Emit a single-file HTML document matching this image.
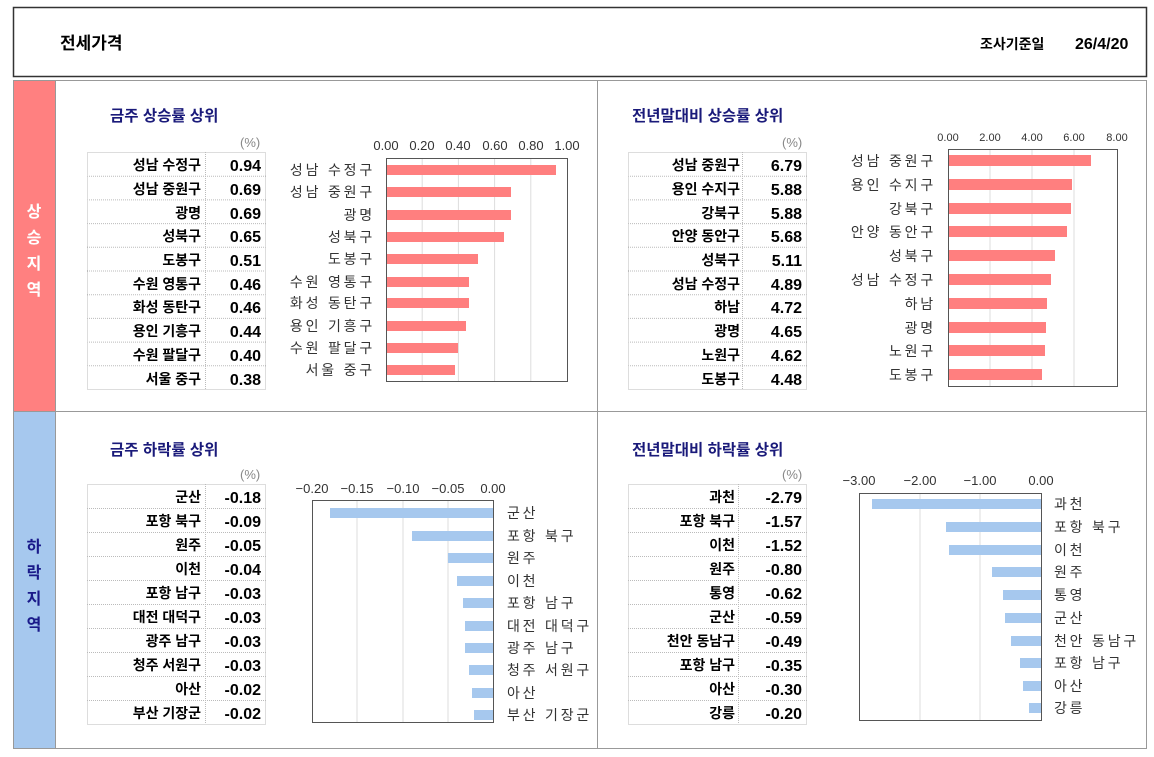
<!DOCTYPE html>
<html><head><meta charset="utf-8"><style>
html,body{margin:0;padding:0;background:#fff}
svg{display:block}
text{font-family:"Liberation Sans","Noto Sans CJK KR",sans-serif}
.t{font-size:14px;font-weight:bold;fill:#000}
.v{font-size:16px;font-weight:bold;fill:#000}
.ti{font-size:15.5px;font-weight:bold;fill:#1a1a7a}
.lb{font-size:14px;fill:#333;letter-spacing:2.8px}
.tk{font-size:13px;fill:#333}
.pc{font-size:13px;fill:#888}
.side{font-size:16px;font-weight:bold}
</style></head><body>
<svg width="1154" height="757" xmlns="http://www.w3.org/2000/svg">
<rect x="13.5" y="7.5" width="1133" height="69" fill="#fff" stroke="#333" stroke-width="1.5"/>
<text x="60" y="49" style="font-size:17px;font-weight:bold">전세가격</text>
<text x="980" y="49" style="font-size:14px;font-weight:bold">조사기준일</text>
<text x="1075" y="49" style="font-size:16px;font-weight:bold">26/4/20</text>
<rect x="13.5" y="80.5" width="1133" height="668" fill="#fff" stroke="#999"/>
<rect x="14" y="81" width="41" height="330" fill="#FF8080"/>
<rect x="14" y="411" width="41" height="337" fill="#A6C8EE"/>
<line x1="55.5" y1="81" x2="55.5" y2="748" stroke="#999"/>
<line x1="597.5" y1="81" x2="597.5" y2="748" stroke="#999"/>
<line x1="14" y1="411.5" x2="1146" y2="411.5" stroke="#999"/>
<g class="side" fill="#fff" text-anchor="middle"><text x="34" y="217">상</text><text x="34" y="243">승</text><text x="34" y="269">지</text><text x="34" y="295">역</text></g>
<g class="side" fill="#1a1a8a" text-anchor="middle"><text x="34" y="552">하</text><text x="34" y="578">락</text><text x="34" y="604">지</text><text x="34" y="630">역</text></g>

<!-- Panel 1 -->
<text class="ti" x="110" y="121">금주 상승률 상위</text>
<text class="pc" x="240" y="147">(%)</text>
<g stroke="#bbb" stroke-dasharray="1,1" fill="none">
<rect x="87.5" y="152.5" width="178" height="237"/>
<line x1="205.5" y1="152" x2="205.5" y2="389"/>
<line x1="87" y1="176.2" x2="266" y2="176.2"/><line x1="87" y1="199.9" x2="266" y2="199.9"/><line x1="87" y1="223.6" x2="266" y2="223.6"/><line x1="87" y1="247.3" x2="266" y2="247.3"/><line x1="87" y1="271" x2="266" y2="271"/><line x1="87" y1="294.7" x2="266" y2="294.7"/><line x1="87" y1="318.4" x2="266" y2="318.4"/><line x1="87" y1="342.1" x2="266" y2="342.1"/><line x1="87" y1="365.8" x2="266" y2="365.8"/>
</g>
<g class="t" text-anchor="end">
<text x="201" y="170">성남 수정구</text><text x="201" y="194">성남 중원구</text><text x="201" y="218">광명</text><text x="201" y="241">성북구</text><text x="201" y="265">도봉구</text><text x="201" y="289">수원 영통구</text><text x="201" y="312">화성 동탄구</text><text x="201" y="336">용인 기흥구</text><text x="201" y="360">수원 팔달구</text><text x="201" y="384">서울 중구</text>
</g>
<g class="v" text-anchor="end">
<text x="261" y="171">0.94</text><text x="261" y="195">0.69</text><text x="261" y="219">0.69</text><text x="261" y="242">0.65</text><text x="261" y="266">0.51</text><text x="261" y="290">0.46</text><text x="261" y="313">0.46</text><text x="261" y="337">0.44</text><text x="261" y="361">0.40</text><text x="261" y="385">0.38</text>
</g>
<g stroke="#ddd"><line x1="422.2" y1="158" x2="422.2" y2="381"/><line x1="458.4" y1="158" x2="458.4" y2="381"/><line x1="494.6" y1="158" x2="494.6" y2="381"/><line x1="530.8" y1="158" x2="530.8" y2="381"/></g>
<g fill="#FF7F7F">
<rect x="386" y="165" width="170" height="10"/><rect x="386" y="187" width="125" height="10"/><rect x="386" y="210" width="125" height="10"/><rect x="386" y="232" width="118" height="10"/><rect x="386" y="254" width="92" height="10"/><rect x="386" y="277" width="83" height="10"/><rect x="386" y="298" width="83" height="10"/><rect x="386" y="321" width="80" height="10"/><rect x="386" y="343" width="72" height="10"/><rect x="386" y="365" width="69" height="10"/>
</g>
<rect x="386.5" y="158.5" width="181" height="223" fill="none" stroke="#555"/>
<g class="tk" text-anchor="middle"><text x="386" y="150">0.00</text><text x="422" y="150">0.20</text><text x="458" y="150">0.40</text><text x="495" y="150">0.60</text><text x="531" y="150">0.80</text><text x="567" y="150">1.00</text></g>
<g class="lb" text-anchor="end">
<text x="375" y="175">성남 수정구</text><text x="375" y="197">성남 중원구</text><text x="375" y="220">광명</text><text x="375" y="242">성북구</text><text x="375" y="264">도봉구</text><text x="375" y="287">수원 영통구</text><text x="375" y="308">화성 동탄구</text><text x="375" y="331">용인 기흥구</text><text x="375" y="353">수원 팔달구</text><text x="375" y="375">서울 중구</text>
</g>

<!-- Panel 2 -->
<text class="ti" x="632" y="121">전년말대비 상승률 상위</text>
<text class="pc" x="782" y="147">(%)</text>
<g stroke="#bbb" stroke-dasharray="1,1" fill="none">
<rect x="628.5" y="152.5" width="178" height="237"/>
<line x1="742.5" y1="152" x2="742.5" y2="389"/>
<line x1="628" y1="176.2" x2="807" y2="176.2"/><line x1="628" y1="199.9" x2="807" y2="199.9"/><line x1="628" y1="223.6" x2="807" y2="223.6"/><line x1="628" y1="247.3" x2="807" y2="247.3"/><line x1="628" y1="271" x2="807" y2="271"/><line x1="628" y1="294.7" x2="807" y2="294.7"/><line x1="628" y1="318.4" x2="807" y2="318.4"/><line x1="628" y1="342.1" x2="807" y2="342.1"/><line x1="628" y1="365.8" x2="807" y2="365.8"/>
</g>
<g class="t" text-anchor="end">
<text x="740" y="170">성남 중원구</text><text x="740" y="194">용인 수지구</text><text x="740" y="218">강북구</text><text x="740" y="241">안양 동안구</text><text x="740" y="265">성북구</text><text x="740" y="289">성남 수정구</text><text x="740" y="312">하남</text><text x="740" y="336">광명</text><text x="740" y="360">노원구</text><text x="740" y="384">도봉구</text>
</g>
<g class="v" text-anchor="end">
<text x="802" y="171">6.79</text><text x="802" y="195">5.88</text><text x="802" y="219">5.88</text><text x="802" y="242">5.68</text><text x="802" y="266">5.11</text><text x="802" y="290">4.89</text><text x="802" y="313">4.72</text><text x="802" y="337">4.65</text><text x="802" y="361">4.62</text><text x="802" y="385">4.48</text>
</g>
<g stroke="#ddd"><line x1="990" y1="149" x2="990" y2="387"/><line x1="1032" y1="149" x2="1032" y2="387"/><line x1="1074" y1="149" x2="1074" y2="387"/></g>
<g fill="#FF7F7F">
<rect x="948" y="155" width="143" height="11"/><rect x="948" y="179" width="124" height="11"/><rect x="948" y="203" width="123" height="11"/><rect x="948" y="226" width="119" height="11"/><rect x="948" y="250" width="107" height="11"/><rect x="948" y="274" width="103" height="11"/><rect x="948" y="298" width="99" height="11"/><rect x="948" y="322" width="98" height="11"/><rect x="948" y="345" width="97" height="11"/><rect x="948" y="369" width="94" height="11"/>
</g>
<rect x="948.5" y="149.5" width="169" height="237" fill="none" stroke="#555"/>
<g class="tk" text-anchor="middle" style="font-family:'Liberation Mono',monospace;font-size:11px"><text x="948" y="141">0.00</text><text x="990" y="141">2.00</text><text x="1032" y="141">4.00</text><text x="1074" y="141">6.00</text><text x="1117" y="141">8.00</text></g>
<g class="lb" text-anchor="end">
<text x="936" y="166">성남 중원구</text><text x="936" y="190">용인 수지구</text><text x="936" y="214">강북구</text><text x="936" y="237">안양 동안구</text><text x="936" y="261">성북구</text><text x="936" y="285">성남 수정구</text><text x="936" y="309">하남</text><text x="936" y="333">광명</text><text x="936" y="356">노원구</text><text x="936" y="380">도봉구</text>
</g>

<!-- Panel 3 -->
<text class="ti" x="110" y="455">금주 하락률 상위</text>
<text class="pc" x="240" y="479">(%)</text>
<g stroke="#bbb" stroke-dasharray="1,1" fill="none">
<rect x="87.5" y="484.5" width="178" height="240"/>
<line x1="205.5" y1="484" x2="205.5" y2="724"/>
<line x1="87" y1="508.5" x2="266" y2="508.5"/><line x1="87" y1="532.5" x2="266" y2="532.5"/><line x1="87" y1="556.5" x2="266" y2="556.5"/><line x1="87" y1="580.5" x2="266" y2="580.5"/><line x1="87" y1="604.5" x2="266" y2="604.5"/><line x1="87" y1="628.5" x2="266" y2="628.5"/><line x1="87" y1="652.5" x2="266" y2="652.5"/><line x1="87" y1="676.5" x2="266" y2="676.5"/><line x1="87" y1="700.5" x2="266" y2="700.5"/>
</g>
<g class="t" text-anchor="end">
<text x="201" y="502">군산</text><text x="201" y="526">포항 북구</text><text x="201" y="550">원주</text><text x="201" y="574">이천</text><text x="201" y="598">포항 남구</text><text x="201" y="622">대전 대덕구</text><text x="201" y="646">광주 남구</text><text x="201" y="670">청주 서원구</text><text x="201" y="694">아산</text><text x="201" y="718">부산 기장군</text>
</g>
<g class="v" text-anchor="end">
<text x="261" y="503">-0.18</text><text x="261" y="527">-0.09</text><text x="261" y="551">-0.05</text><text x="261" y="575">-0.04</text><text x="261" y="599">-0.03</text><text x="261" y="623">-0.03</text><text x="261" y="647">-0.03</text><text x="261" y="671">-0.03</text><text x="261" y="695">-0.02</text><text x="261" y="719">-0.02</text>
</g>
<g stroke="#ddd"><line x1="357" y1="500" x2="357" y2="722"/><line x1="403" y1="500" x2="403" y2="722"/><line x1="448" y1="500" x2="448" y2="722"/></g>
<g fill="#A6C8EE">
<rect x="330" y="508" width="163" height="10"/><rect x="412" y="531" width="81" height="10"/><rect x="448" y="553" width="45" height="10"/><rect x="457" y="576" width="36" height="10"/><rect x="463" y="598" width="30" height="10"/><rect x="465" y="621" width="28" height="10"/><rect x="465" y="643" width="28" height="10"/><rect x="469" y="665" width="24" height="10"/><rect x="472" y="688" width="21" height="10"/><rect x="474" y="710" width="19" height="10"/>
</g>
<rect x="312.5" y="500.5" width="181" height="222" fill="none" stroke="#555"/>
<g class="tk" text-anchor="middle"><text x="312" y="493">−0.20</text><text x="357" y="493">−0.15</text><text x="403" y="493">−0.10</text><text x="448" y="493">−0.05</text><text x="493" y="493">0.00</text></g>
<g class="lb">
<text x="507" y="518">군산</text><text x="507" y="541">포항 북구</text><text x="507" y="563">원주</text><text x="507" y="586">이천</text><text x="507" y="608">포항 남구</text><text x="507" y="631">대전 대덕구</text><text x="507" y="653">광주 남구</text><text x="507" y="675">청주 서원구</text><text x="507" y="698">아산</text><text x="507" y="720">부산 기장군</text>
</g>

<!-- Panel 4 -->
<text class="ti" x="632" y="455">전년말대비 하락률 상위</text>
<text class="pc" x="782" y="479">(%)</text>
<g stroke="#bbb" stroke-dasharray="1,1" fill="none">
<rect x="628.5" y="484.5" width="178" height="240"/>
<line x1="738.5" y1="484" x2="738.5" y2="724"/>
<line x1="628" y1="508.5" x2="807" y2="508.5"/><line x1="628" y1="532.5" x2="807" y2="532.5"/><line x1="628" y1="556.5" x2="807" y2="556.5"/><line x1="628" y1="580.5" x2="807" y2="580.5"/><line x1="628" y1="604.5" x2="807" y2="604.5"/><line x1="628" y1="628.5" x2="807" y2="628.5"/><line x1="628" y1="652.5" x2="807" y2="652.5"/><line x1="628" y1="676.5" x2="807" y2="676.5"/><line x1="628" y1="700.5" x2="807" y2="700.5"/>
</g>
<g class="t" text-anchor="end">
<text x="735" y="502">과천</text><text x="735" y="526">포항 북구</text><text x="735" y="550">이천</text><text x="735" y="574">원주</text><text x="735" y="598">통영</text><text x="735" y="622">군산</text><text x="735" y="646">천안 동남구</text><text x="735" y="670">포항 남구</text><text x="735" y="694">아산</text><text x="735" y="718">강릉</text>
</g>
<g class="v" text-anchor="end">
<text x="802" y="503">-2.79</text><text x="802" y="527">-1.57</text><text x="802" y="551">-1.52</text><text x="802" y="575">-0.80</text><text x="802" y="599">-0.62</text><text x="802" y="623">-0.59</text><text x="802" y="647">-0.49</text><text x="802" y="671">-0.35</text><text x="802" y="695">-0.30</text><text x="802" y="719">-0.20</text>
</g>
<g stroke="#ddd"><line x1="920" y1="493" x2="920" y2="720"/><line x1="980" y1="493" x2="980" y2="720"/></g>
<g fill="#A6C8EE">
<rect x="872" y="499" width="169" height="10"/><rect x="946" y="522" width="95" height="10"/><rect x="949" y="545" width="92" height="10"/><rect x="992" y="567" width="49" height="10"/><rect x="1003" y="590" width="38" height="10"/><rect x="1005" y="613" width="36" height="10"/><rect x="1011" y="636" width="30" height="10"/><rect x="1020" y="658" width="21" height="10"/><rect x="1023" y="681" width="18" height="10"/><rect x="1029" y="703" width="12" height="10"/>
</g>
<rect x="859.5" y="493.5" width="182" height="227" fill="none" stroke="#555"/>
<g class="tk" text-anchor="middle"><text x="859" y="485">−3.00</text><text x="920" y="485">−2.00</text><text x="980" y="485">−1.00</text><text x="1041" y="485">0.00</text></g>
<g class="lb">
<text x="1054" y="509">과천</text><text x="1054" y="532">포항 북구</text><text x="1054" y="555">이천</text><text x="1054" y="577">원주</text><text x="1054" y="600">통영</text><text x="1054" y="623">군산</text><text x="1054" y="646">천안 동남구</text><text x="1054" y="668">포항 남구</text><text x="1054" y="691">아산</text><text x="1054" y="713">강릉</text>
</g>
</svg>
</body></html>
